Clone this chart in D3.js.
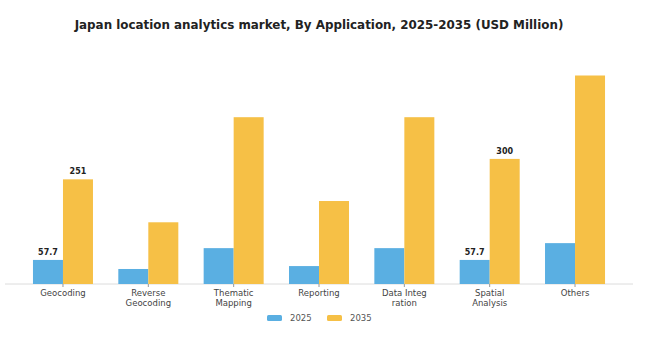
<!DOCTYPE html>
<html><head><meta charset="utf-8">
<script src="https://cdn.jsdelivr.net/npm/d3@7"></script>
<style>body{margin:0;background:#fff}svg{display:block}</style>
</head><body>
<svg id="c" width="648" height="352"></svg>
<script>
const categories = ["Geocoding","Reverse Geocoding","Thematic Mapping","Reporting","Data Integration","Spatial Analysis","Others"];
const tickLabels = [["Geocoding"],["Reverse","Geocoding"],["Thematic","Mapping"],["Reporting"],["Data Integ","ration"],["Spatial","Analysis"],["Others"]];
const series = ["2025","2035"];
const values2025 = [57.7, 36, 86, 43, 86, 57.7, 98];
const values2035 = [251, 148, 400, 199, 400, 300, 500];
const shownLabels2025 = [true,false,false,false,false,true,false];
const shownLabels2035 = [true,false,false,false,false,true,false];
const labelText2035 = ["251","","","","","300",""];

const colors = {"2025":"#5aafe2","2035":"#f6c046"};
const svg = d3.select("#c");
const W=648,H=352;
svg.append("rect").attr("width",W).attr("height",H).attr("fill","#fff");

svg.append("text").attr("x",319).attr("y",29).attr("text-anchor","middle")
  .attr("font-family","DejaVu Sans").attr("font-weight","bold").attr("font-size",11.9)
  .attr("fill","#222").text("Japan location analytics market, By Application, 2025-2035 (USD Million)");

const p = 1-60/85.34;
const x = d3.scaleBand().domain(categories).range([20.3,617.7]).paddingInner(p).paddingOuter(p/2);
const xs = d3.scaleBand().domain(series).range([0,x.bandwidth()]);
const y = d3.scaleLinear().domain([0,550]).range([284,284-550*0.417]);

// baseline
svg.append("line").attr("x1",5).attr("x2",633).attr("y1",y(0)).attr("y2",y(0)).attr("stroke","#dcdcdc").attr("stroke-width",1);

const data = categories.map((c,i)=>({c,i,vals:[{s:"2025",v:values2025[i]},{s:"2035",v:values2035[i]}]}));
const g = svg.selectAll("g.grp").data(data).join("g").attr("transform",d=>`translate(${x(d.c)},0)`);
g.selectAll("rect").data(d=>d.vals).join("rect")
  .attr("x",d=>xs(d.s)).attr("width",xs.bandwidth())
  .attr("y",d=>y(d.v)).attr("height",d=>y(0)-y(d.v)).attr("fill",d=>colors[d.s]);

// ticks
const axis = d3.axisBottom(x).tickSize(3).tickFormat("");
const ax = svg.append("g").attr("transform",`translate(0,${y(0)})`).call(axis);
ax.select(".domain").remove();
ax.selectAll(".tick line").attr("stroke","#999");
ax.selectAll(".tick").each(function(d,i){
  const t = d3.select(this).append("text").attr("fill","#444").attr("font-family","DejaVu Sans")
    .attr("font-size",8.5).attr("text-anchor","middle");
  tickLabels[i].forEach((s,k)=>t.append("tspan").attr("x",0).attr("y",12+k*10).text(s));
});

// value labels
data.forEach(d=>{
  if(shownLabels2025[d.i]) svg.append("text").attr("x",x(d.c)+xs("2025")+xs.bandwidth()/2).attr("y",y(values2025[d.i])-5)
    .attr("text-anchor","middle").attr("font-family","DejaVu Sans").attr("font-weight","bold").attr("font-size",8).attr("fill","#222").text(values2025[d.i]);
  if(shownLabels2035[d.i]) svg.append("text").attr("x",x(d.c)+xs("2035")+xs.bandwidth()/2).attr("y",y(values2035[d.i])-5)
    .attr("text-anchor","middle").attr("font-family","DejaVu Sans").attr("font-weight","bold").attr("font-size",8).attr("fill","#222").text(labelText2035[d.i]);
});

// legend
const lg = svg.append("g");
[[267,"2025"],[327,"2035"]].forEach(([lx,s])=>{
  lg.append("rect").attr("x",lx).attr("y",315).attr("width",15).attr("height",6).attr("rx",1.5).attr("fill",colors[s]);
  lg.append("text").attr("x",lx+23).attr("y",321).attr("font-family","DejaVu Sans").attr("font-size",8.5).attr("fill","#555").text(s);
});
</script>
</body></html>
